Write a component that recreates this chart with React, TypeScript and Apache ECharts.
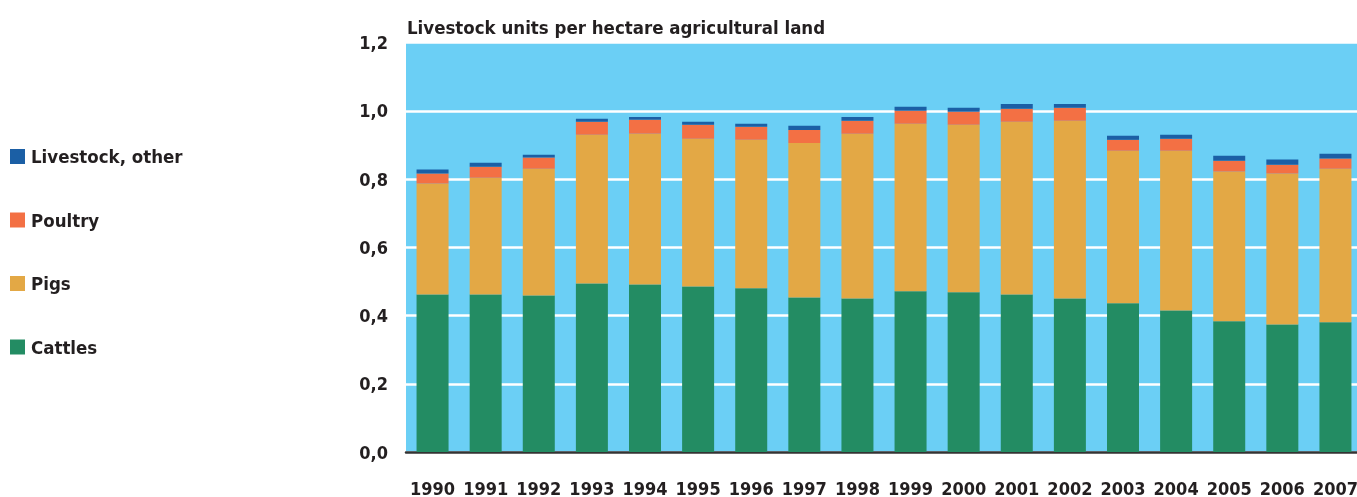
import React, { useEffect, useRef } from "react";
import * as echarts from "echarts";

const years = ["1990","1991","1992","1993","1994","1995","1996","1997","1998","1999","2000","2001","2002","2003","2004","2005","2006","2007"];
const cattles = [0.462,0.462,0.459,0.494,0.491,0.485,0.480,0.453,0.450,0.471,0.468,0.462,0.450,0.436,0.415,0.383,0.374,0.380];
const pigs = [0.325,0.342,0.371,0.436,0.442,0.433,0.435,0.453,0.483,0.491,0.491,0.506,0.521,0.447,0.468,0.439,0.442,0.450];
const poultry = [0.029,0.032,0.033,0.038,0.041,0.041,0.038,0.038,0.038,0.038,0.038,0.038,0.038,0.032,0.035,0.032,0.026,0.030];
const other = [0.012,0.012,0.008,0.009,0.008,0.009,0.009,0.012,0.011,0.012,0.012,0.014,0.011,0.012,0.012,0.014,0.015,0.014];
const yTicks = { min: 0, max: 1.2, interval: 0.2 };
const title = "Livestock units per hectare agricultural land";

const FONT = "'DejaVu Sans Condensed', 'Liberation Sans Narrow', sans-serif";
const TXT = "#231f20";

export default function App() {
  const ref = useRef<HTMLDivElement>(null);
  useEffect(() => {
    document.body.style.overflow = "hidden";
    if (!ref.current) return;
    const chart = echarts.init(ref.current, null, { renderer: "svg" });
    const mk = (name: string, data: number[], color: string) => ({
      name,
      type: "bar",
      stack: "total",
      data,
      barWidth: 32,
      itemStyle: { color },
      emphasis: { disabled: true },
    });
    chart.setOption({
      animation: false,
      title: {
        text: title,
        left: 402,
        top: 13,
        textStyle: { fontFamily: FONT, fontWeight: "bold", fontSize: 18.5, color: TXT },
      },
      legend: {
        orient: "vertical",
        left: 10,
        top: 147,
        padding: 0,
        itemWidth: 15,
        itemHeight: 15,
        itemGap: 44.5,
        icon: "rect",
        data: ["Livestock, other", "Poultry", "Pigs", "Cattles"],
        textStyle: { fontFamily: FONT, fontWeight: "bold", fontSize: 18.5, lineHeight: 18, color: TXT, padding: [0, 0, 0, 1] },
      },
      grid: { left: 406, right: 0, top: 42.6, bottom: 44, backgroundColor: "#6bcff5", show: true, borderWidth: 0 },
      xAxis: {
        type: "category",
        data: years,
        axisLine: { lineStyle: { color: "#333", width: 2.5 } },
        axisTick: { show: false },
        axisLabel: { fontFamily: FONT, fontWeight: "bold", fontSize: 18, color: TXT, margin: 27, interval: 0 },
      },
      yAxis: {
        type: "value",
        min: yTicks.min,
        max: yTicks.max,
        interval: yTicks.interval,
        axisLine: { show: false },
        axisTick: { show: false },
        splitLine: { lineStyle: { color: "#ffffff", width: 2.5 } },
        axisLabel: {
          fontFamily: FONT,
          fontWeight: "bold",
          fontSize: 18,
          color: TXT,
          margin: 18,
          formatter: (v: number) => v.toFixed(1).replace(".", ","),
        },
      },
      series: [
        mk("Cattles", cattles, "#238c63"),
        mk("Pigs", pigs, "#e3a845"),
        mk("Poultry", poultry, "#f37044"),
        mk("Livestock, other", other, "#1b5fa5"),
      ],
    });
    return () => chart.dispose();
  }, []);
  return <div ref={ref} style={{ position: "fixed", left: 0, top: 0, width: 1362, height: 497 }} />;
}
